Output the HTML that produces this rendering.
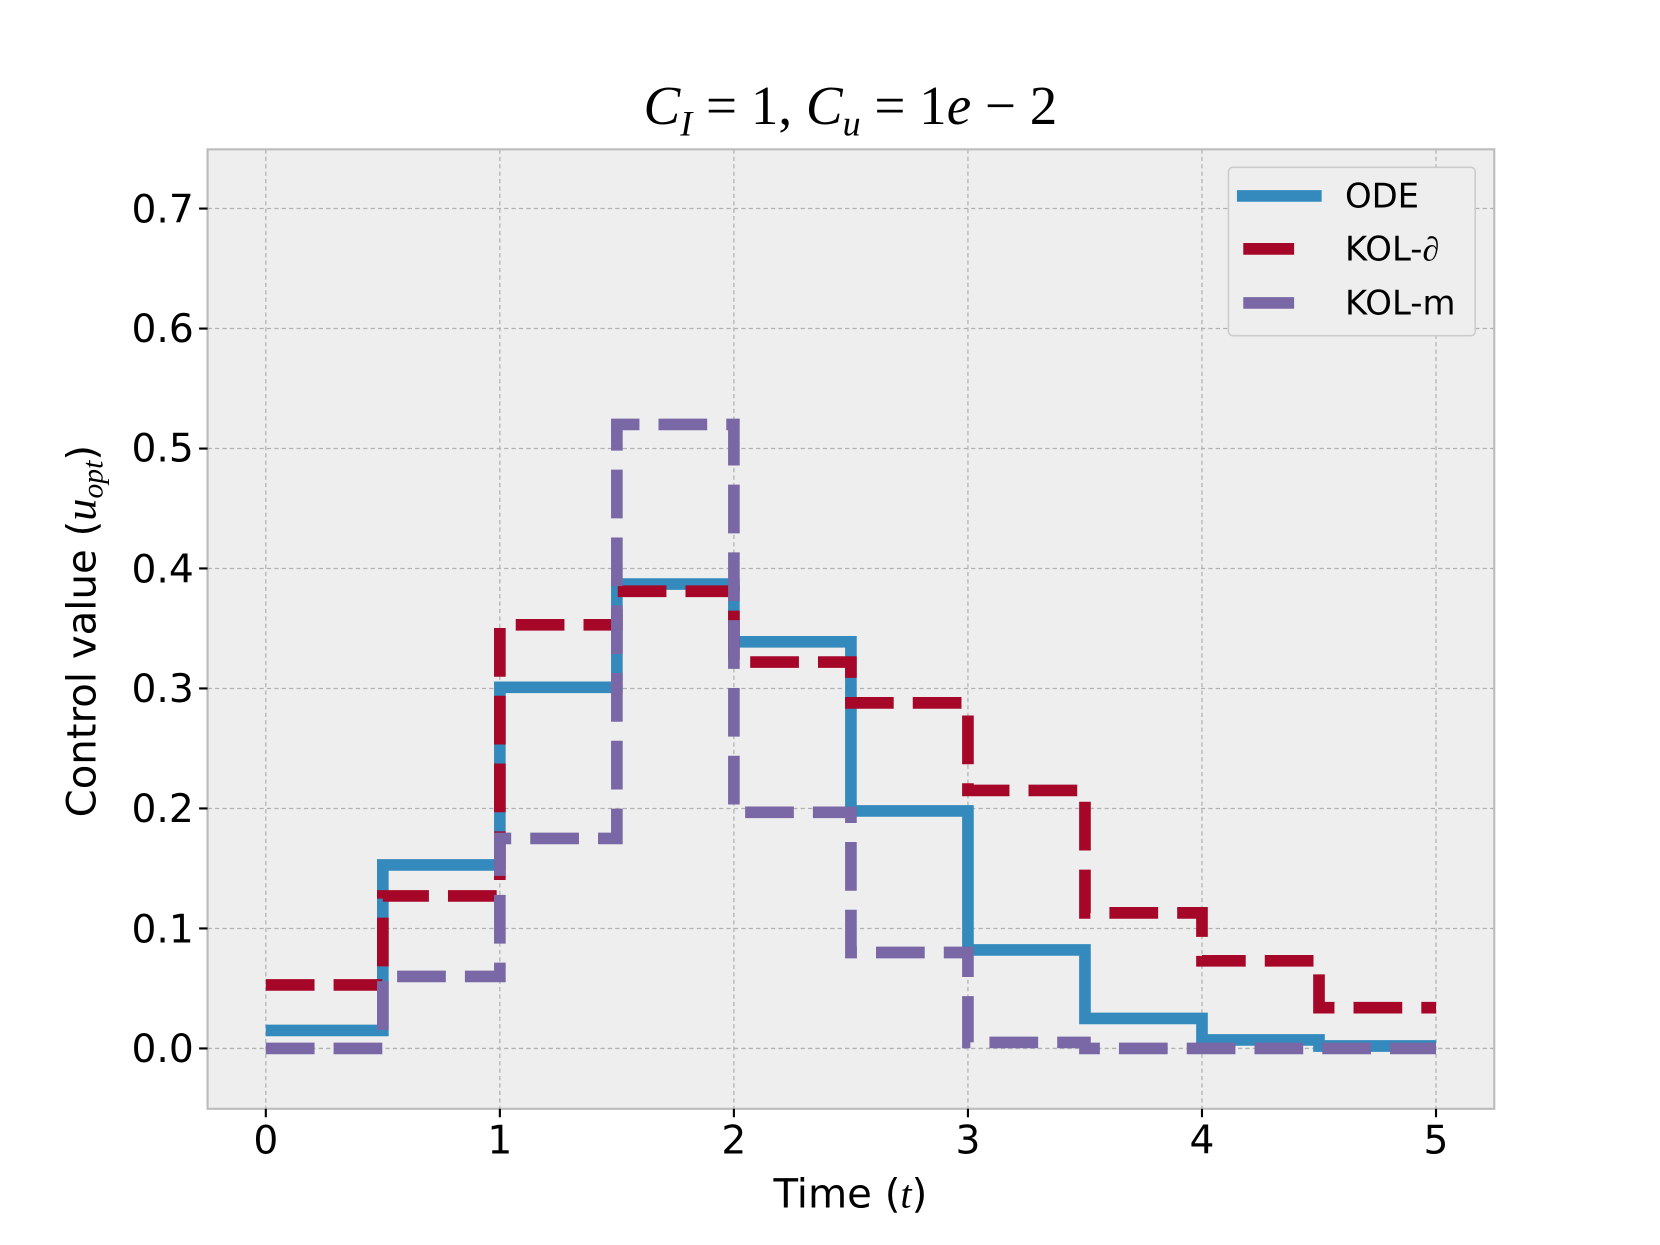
<!DOCTYPE html>
<html><head><meta charset="utf-8"><style>
html,body{margin:0;padding:0;background:#fff;}
svg{display:block;}
text{font-family:"DejaVu Sans","Liberation Sans",sans-serif;fill:#000;}
.s{font-family:"Liberation Serif",serif;font-style:italic;}
.r{font-family:"Liberation Serif",serif;}
</style></head><body>
<svg width="1660" height="1245" viewBox="0 0 1567.5 1175.6" xmlns="http://www.w3.org/2000/svg">
<rect x="196" y="141" width="1215" height="906" fill="#eeeeee"/>
<g stroke="#b2b2b2" stroke-width="1.2" stroke-dasharray="4 3" fill="none">
<path d="M251,141V1047M472,141V1047M693,141V1047M914,141V1047M1135,141V1047M1356,141V1047"/>
<path d="M196,990H1411M196,876.7H1411M196,763.4H1411M196,650.1H1411M196,536.8H1411M196,423.5H1411M196,310.2H1411M196,196.9H1411"/>
</g>
<rect x="196" y="141" width="1215" height="906" fill="none" stroke="#bcbcbc" stroke-width="2"/>
<g stroke="#000" stroke-width="2">
<path d="M251,1047v8M472,1047v8M693,1047v8M914,1047v8M1135,1047v8M1356,1047v8"/>
<path d="M196,990h-8M196,876.7h-8M196,763.4h-8M196,650.1h-8M196,536.8h-8M196,423.5h-8M196,310.2h-8M196,196.9h-8"/>
</g>
<g font-size="37" text-anchor="end">
<text x="183" y="1003">0.0</text><text x="183" y="890">0.1</text><text x="183" y="776">0.2</text><text x="183" y="663">0.3</text><text x="183" y="550">0.4</text><text x="183" y="436">0.5</text><text x="183" y="323">0.6</text><text x="183" y="210">0.7</text>
</g>
<g font-size="37" text-anchor="middle">
<text x="251" y="1089">0</text><text x="472" y="1089">1</text><text x="693" y="1089">2</text><text x="914" y="1089">3</text><text x="1135" y="1089">4</text><text x="1356" y="1089">5</text>
<text x="803" y="1140" font-size="38">Time (<tspan class="s">t</tspan>)</text>
<text x="803" y="117" font-size="52" class="r"><tspan class="s">C</tspan><tspan font-size="34" class="s" dy="11">I</tspan><tspan dy="-11"> = 1,  </tspan><tspan class="s">C</tspan><tspan font-size="34" class="s" dy="11">u</tspan><tspan dy="-11"> = 1</tspan><tspan class="s">e</tspan> − 2</text>
</g>
<text transform="translate(90,596) rotate(-90)" font-size="38" text-anchor="middle">Control value (<tspan class="s" font-size="42">u</tspan><tspan class="s" font-size="28" dy="7">opt</tspan><tspan dy="-7">)</tspan></text>
<g fill="none" stroke-width="11">
<path stroke="#348ABD" d="M251,973H361.5V816.7H472V649H582.5V551.5H693V606H803.5V765.7H914V897H1024.5V961.7H1135V982H1245.5V987.7H1356"/>
<path stroke="#A60628" stroke-dasharray="46 18" d="M251,930H361.5V846H472V590H582.5V558.3H693V625.2H803.5V663.7H914V746.4H1024.5V862H1135V907.3H1245.5V951.5H1356"/>
<path stroke="#7A68A6" stroke-dasharray="46 18" d="M251,990H361.5V922H472V791.7H582.5V400.8H693V767H803.5V899.4H914V984.3H1024.5V990H1356"/>
</g>
<rect x="1160" y="158" width="233" height="159" rx="4" fill="#eeeeee" stroke="#cccccc" stroke-width="1.5"/>
<g stroke-width="11">
<path stroke="#348ABD" d="M1168,185H1248"/>
<path stroke="#A60628" d="M1174,235H1222"/>
<path stroke="#7A68A6" d="M1174,286H1222"/>
</g>
<g font-size="32">
<text x="1270" y="196">ODE</text>
<text x="1270" y="246">KOL-<tspan class="s">∂</tspan></text>
<text x="1270" y="297">KOL-m</text>
</g>
</svg>
</body></html>
